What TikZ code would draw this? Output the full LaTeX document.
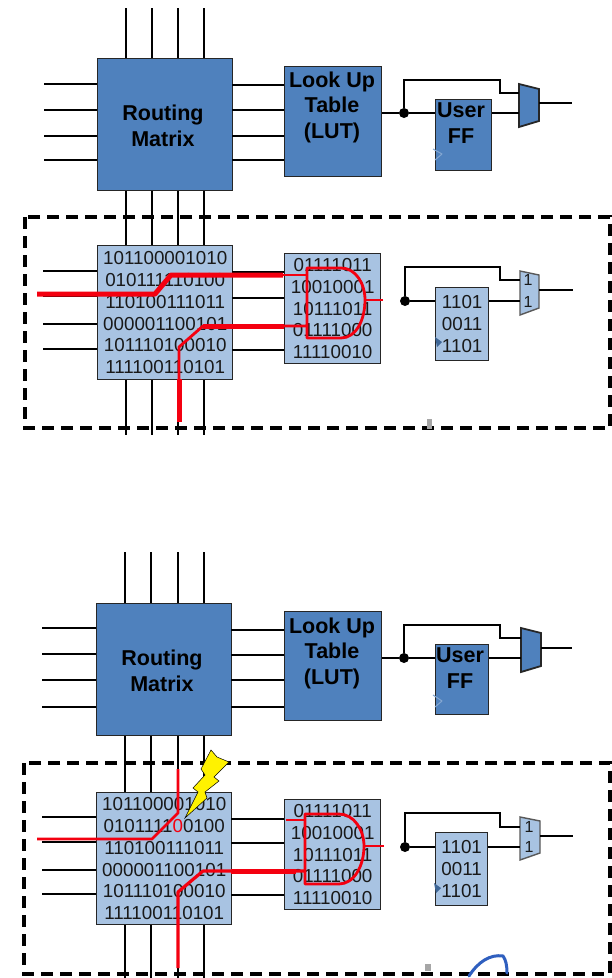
\documentclass[tikz,border=0pt]{standalone}
\usepackage{fontspec}
\setmainfont{Liberation Sans}
\definecolor{bluebox}{HTML}{4F81BD}
\definecolor{lightbox}{HTML}{A8C3E2}
\definecolor{redline}{HTML}{F40010}
\definecolor{scribble}{HTML}{2F5FBF}
\tikzset{
  x=1pt,y=-1pt,
  boxbase/.style={draw=black!85,line width=1.4pt,anchor=north west,inner sep=0pt,align=center,text=black!90},
  darkbox/.style={boxbase,fill=bluebox},
  boxlabel/.style={inner sep=0pt,align=center,text=black,font=\bfseries\fontsize{21.5}{25.5}\selectfont},
  litebox/.style={boxbase,fill=lightbox,font=\fontsize{18.8}{21.7}\selectfont},
  wire/.style={draw=black,line width=2.4pt},
  thinwire/.style={draw=black,line width=1.4pt},
  rednet/.style={draw=redline,line width=2.8pt,line join=round},
  redthick/.style={draw=redline,line width=5pt,line join=round},
  junction/.style={circle,fill=black,inner sep=0pt,minimum size=10pt},
  muxdark/.style={draw=black!85,line width=1.8pt,fill=bluebox},
  muxlite/.style={draw=black!65,line width=1.4pt,fill=lightbox},
  muxbit/.style={font=\fontsize{16}{16}\selectfont,inner sep=0pt,text=black!90},
  region/.style={draw=black,line width=3.4pt,dash pattern=on 12pt off 7pt},
  clockmark/.style={line width=1pt,line join=round},
  speck/.style={fill=black!35,draw=none}
}
\begin{document}
\begin{tikzpicture}
\useasboundingbox (0,0) rectangle (611,978);
\fill[white] (0,0) rectangle (611,978);

% ---------- Panel 1: boxes
\node[darkbox,minimum width=135pt,minimum height=132pt] (rmA) at (97,58) {};
\node[boxlabel] (rmAt) at (163,126) {Routing\\Matrix};
\node[darkbox,minimum width=97pt,minimum height=110pt] (lutA) at (284,66) {};
\node[boxlabel] (lutAt) at (332,107) {Look Up\\Table\\(LUT)};
\node[darkbox,minimum width=56pt,minimum height=71pt] (ffA) at (435,99) {};
\node[boxlabel] (ffAt) at (461,123) {User\\FF};
\node[litebox,minimum width=135pt,minimum height=134pt] (rmB) at (97,245) {101100001010\\010111110100\\110100111011\\000001100101\\101110100010\\111100110101};
\node[litebox,minimum width=96pt,minimum height=110pt] (lutB) at (284,253) {01111011\\10010001\\10111011\\01111000\\11110010};
\node[litebox,minimum width=53pt,minimum height=73pt] (ffB) at (435,287) {1101\\0011\\1101};

% ---------- Panel 2: boxes
\node[darkbox,minimum width=135pt,minimum height=132pt] (rmC) at (96,603) {};
\node[boxlabel] (rmCt) at (162,671) {Routing\\Matrix};
\node[darkbox,minimum width=97pt,minimum height=109pt] (lutC) at (284,611) {};
\node[boxlabel] (lutCt) at (332,653) {Look Up\\Table\\(LUT)};
\node[darkbox,minimum width=53pt,minimum height=70pt] (ffC) at (435,644) {};
\node[boxlabel] (ffCt) at (460,668) {User\\FF};
\node[litebox,minimum width=135pt,minimum height=132pt] (rmD) at (96,792) {101100001010\\0101111\textcolor{redline}{0}0100\\110100111011\\000001100101\\101110100010\\111100110101};
\node[litebox,minimum width=96pt,minimum height=110pt] (lutD) at (284,799) {01111011\\10010001\\10111011\\01111000\\11110010};
\node[litebox,minimum width=52pt,minimum height=73pt] (ffD) at (435,832) {1101\\0011\\1101};

% ---------- Vertical routing wires
\foreach \i/\x in {1/126,2/152,3/178,4/204}{
  \coordinate (ta\i) at (\x,8);
  \coordinate (ba\i) at (\x,435);
  \draw[wire] (ta\i) -- (ta\i |- rmA.north);
  \draw[wire] (ta\i |- rmA.south) -- (ta\i |- rmB.north);
  \draw[wire] (ba\i |- rmB.south) -- (ba\i);
}
\foreach \i/\x in {1/125,2/151,3/178,4/204}{
  \coordinate (tc\i) at (\x,552);
  \coordinate (bc\i) at (\x,978);
  \draw[wire] (tc\i) -- (tc\i |- rmC.north);
  \draw[wire] (tc\i |- rmC.south) -- (tc\i |- rmD.north);
  \draw[wire] (bc\i |- rmD.south) -- (bc\i);
}

% ---------- Horizontal wires
\foreach \i/\y/\yr/\k in {1/84/85/wire,2/110/110/thinwire,3/136/136/wire,4/160/160/wire}{
  \coordinate (la\i) at (44,\y);
  \coordinate (ra\i) at (232,\yr);
  \draw[\k] (la\i) -- (la\i -| rmA.west);
  \draw[\k] (ra\i) -- (ra\i -| lutA.west);
}
\foreach \i/\y/\yr/\k in {1/271/272/thinwire,2/296/298/wire,3/324/326/wire,4/349/350/wire}{
  \coordinate (lb\i) at (43,\y);
  \coordinate (rb\i) at (232,\yr);
  \draw[\k] (lb\i) -- (lb\i -| rmB.west);
  \draw[\k] (rb\i) -- (rb\i -| lutB.west);
}
\foreach \i/\y/\yr/\k in {1/628/630/thinwire,2/654/655/wire,3/680/680/wire,4/707/707/wire}{
  \coordinate (lc\i) at (42,\y);
  \coordinate (rc\i) at (231,\yr);
  \draw[\k] (lc\i) -- (lc\i -| rmC.west);
  \draw[\k] (rc\i) -- (rc\i -| lutC.west);
}
\foreach \i/\y/\yr/\k in {1/817/819/thinwire,2/842/843/wire,3/870/871/wire,4/894/895/wire}{
  \coordinate (ld\i) at (42,\y);
  \coordinate (rd\i) at (231,\yr);
  \draw[\k] (ld\i) -- (ld\i -| rmD.west);
  \draw[\k] (rd\i) -- (rd\i -| lutD.west);
}

% ---------- Output sections: junction, FF, loop, mux
\coordinate (loopA) at (500,80);
\coordinate (loopB) at (500,267);
\coordinate (loopC) at (500,625);
\coordinate (loopD) at (500,813);
\coordinate (outA) at (572,103);
\coordinate (outB) at (573,290);
\coordinate (outC) at (572,648);
\coordinate (outD) at (573,836);

\node[junction] (jA) at (404,113) {};
\node[junction] (jB) at (405,301) {};
\node[junction] (jC) at (404,658) {};
\node[junction] (jD) at (405,847) {};

% mux shapes with named corner coordinates
\draw[muxdark] (519,84) coordinate (mA) -- (539,89) -- (539,121) -- (519,127) -- cycle;
\draw[muxlite] (520,271) coordinate (mB) -- (539,275) -- (539,308) -- (520,315) -- cycle;
\draw[muxdark] (521,628) coordinate (mC) -- (541,633) -- (541,666) -- (521,672) -- cycle;
\draw[muxlite] (520,817) coordinate (mD) -- (540,821) -- (540,853) -- (520,860) -- cycle;
\node[muxbit] (mbB1) at (528,280) {1};
\node[muxbit] (mbB2) at (528,302) {1};
\node[muxbit] (mbD1) at (529,827) {1};
\node[muxbit] (mbD2) at (529,847) {1};

\draw[thinwire] (lutA.east |- jA) -- (jA) -- (jA -| ffA.west);
\draw[thinwire] (ffA.east |- jA) -- (jA -| mA);
\draw[wire] (jA) -- (jA |- loopA) -- (loopA) -- (500,93) -- (mA |- 0,93);
\draw[wire] (539,103) -- (outA);

\draw[thinwire] (jB) -- (jB -| ffB.west);
\draw[wire] (ffB.east |- jB) -- (jB -| mB);
\draw[wire] (jB) -- (jB |- loopB) -- (loopB) -- (500,280) -- (mB |- 0,280);
\draw[wire] (539,290) -- (outB);

\draw[wire] (lutC.east |- jC) -- (jC) -- (jC -| ffC.west);
\draw[wire] (ffC.east |- jC) -- (jC -| mC);
\draw[wire] (jC) -- (jC |- loopC) -- (loopC) -- (500,638) -- (mC |- 0,638);
\draw[wire] (541,648) -- (outC);

\draw[thinwire] (jD) -- (jD -| ffD.west);
\draw[wire] (ffD.east |- jD) -- (jD -| mD);
\draw[wire] (jD) -- (jD |- loopD) -- (loopD) -- (500,827) -- (mD |- 0,827);
\draw[wire] (540,836) -- (outD);

% clock marks
\draw[clockmark,draw=bluebox!70!white] (433,149) -- (442,154) -- (435,160);
\draw[clockmark,draw=bluebox!70!white] (433,695) -- (442,701) -- (435,707);
\fill[bluebox!80!black] (435,337) -- (442,342) -- (437,347) -- cycle;
\fill[bluebox!80!black] (434,883) -- (441,888) -- (436,893) -- cycle;

% ---------- Dashed regions
\draw[region] (25,217) rectangle (610,428);
\draw[region] (24,763) rectangle (610,974);

% ---------- Red nets, panel 1
\coordinate (rsB) at (37,294);
\coordinate (rbB) at (179,422);
\draw[redthick] (rsB) -- (155,294) -- (171,275) -- (283,275);
\draw[rednet] (283,275) -- (307,275);
\draw[redthick] (rbB) -- (179,379);
\draw[rednet] (179,379) -- (179,347) -- (203,326) -- (308,326);
\draw[redthick] (203,326) -- (rb3 -| lutB.west);
\draw[rednet] (383,300) -- (365,300);
\draw[rednet] (307,268) -- (341,268) .. controls (356,268) and (365,284) .. (365,300)
  .. controls (365,320) and (356,338) .. (341,338) -- (307,338) -- cycle;

% ---------- Red nets, panel 2
\coordinate (rsD) at (37,839);
\coordinate (rtD) at (178,769);
\coordinate (rbD) at (178,968);
\draw[rednet] (rsD) -- (152,839) -- (178,813) -- (rtD);
\draw[rednet,line width=3.2pt] (rbD) -- (178,892) -- (203,871) -- (305,871);
\draw[redthick] (rd3) -- (296,871);
\draw[rednet] (286,820) -- (305,820);
\draw[rednet] (384,846) -- (364,846);
\draw[rednet] (305,814) -- (339,814) .. controls (354,814) and (364,830) .. (364,846)
  .. controls (364,866) and (354,884) .. (339,884) -- (305,884) -- cycle;

% ---------- Lightning bolt
\draw[fill=yellow,draw=black,line width=.5pt,line join=miter]
  (211,750) -- (217,757) -- (229,762) -- (214,777) -- (219,781) -- (205,792) -- (207,798) -- (185,818)
  -- (198,792) -- (193,788) -- (205,775) -- (201,769) -- cycle;

% ---------- Specks and scribble
\fill[speck] (427,419) rectangle (432,429);
\fill[speck] (425,964) rectangle (431,971);
\draw[draw=scribble,line width=3pt,line cap=round]
  (469,976) .. controls (478,962) and (490,954) .. (503,956) .. controls (506,960) and (507,966) .. (507,973);
\end{tikzpicture}
\end{document}
